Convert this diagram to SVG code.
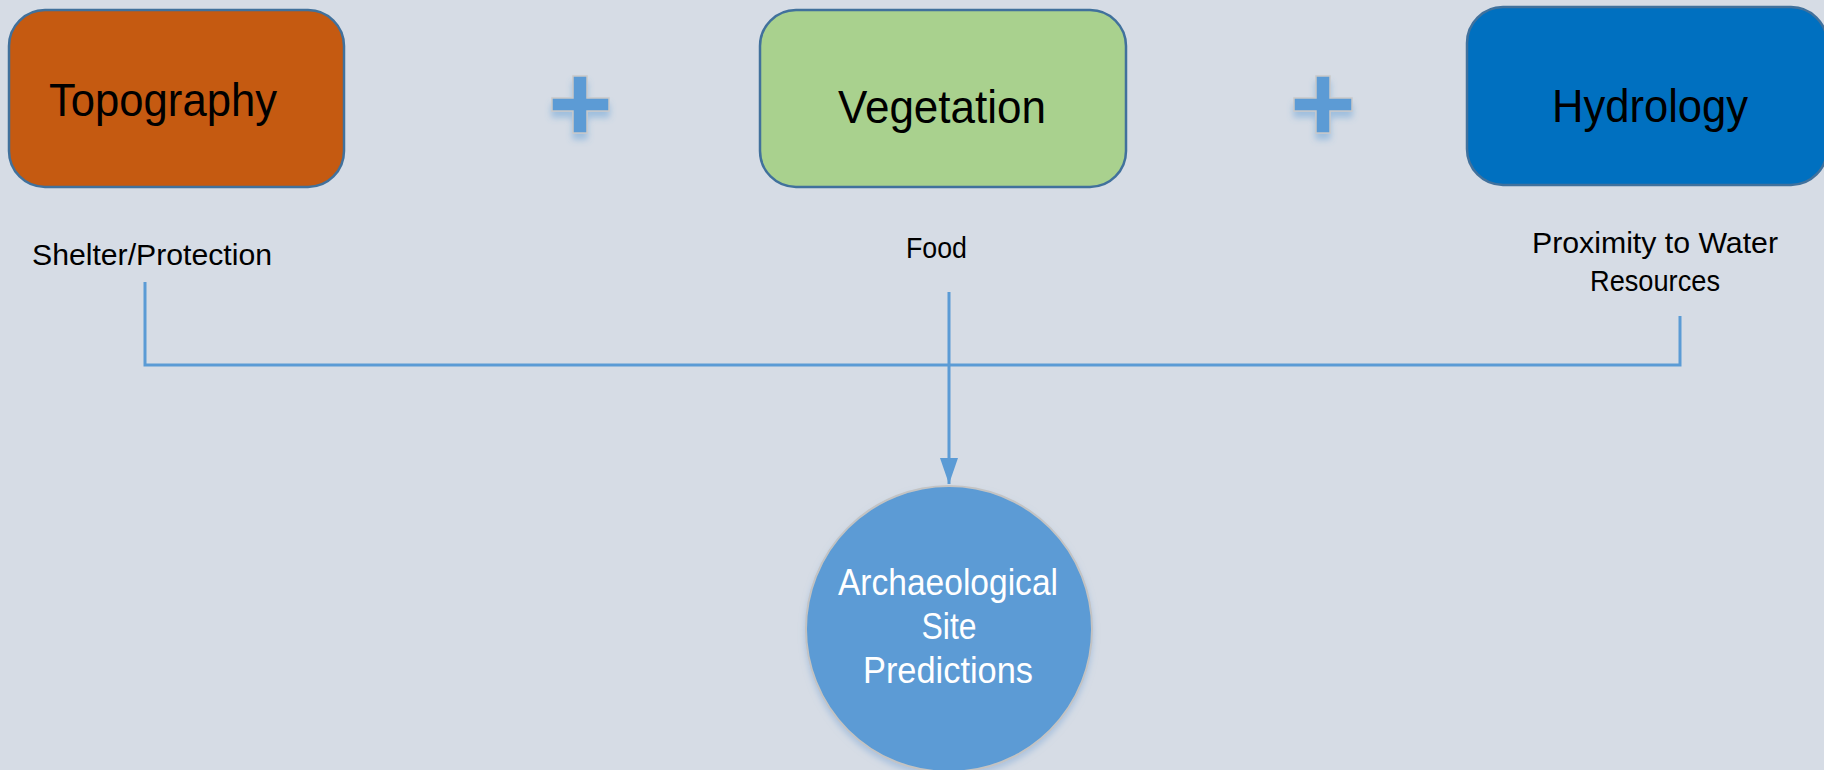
<svg xmlns="http://www.w3.org/2000/svg" width="1824" height="770" viewBox="0 0 1824 770">
  <defs>
    <style>
      .box { stroke: #41719C; stroke-width: 2.5; }
      .boxtxt { font-family: "Liberation Sans", Arial, sans-serif; font-size: 47px; fill: #000; }
      .lbl { font-family: "Liberation Sans", Arial, sans-serif; font-size: 30px; fill: #000; }
      .ctxt { font-family: "Liberation Sans", Arial, sans-serif; font-size: 37px; fill: #fff; text-anchor: middle; }
      .plus { fill: #5B9BD5; stroke: #C9C9C9; stroke-width: 1.5; }
      .conn { fill: none; stroke: #5B9BD5; stroke-width: 3; }
    </style>
    <filter id="shadow" x="-30%" y="-30%" width="160%" height="170%">
      <feDropShadow dx="0" dy="6" stdDeviation="3" flood-color="#5B9BD5" flood-opacity="0.45"/>
    </filter>
    <filter id="cshadow" x="-10%" y="-10%" width="120%" height="125%">
      <feDropShadow dx="0" dy="4" stdDeviation="3" flood-color="#7FA7D6" flood-opacity="0.5"/>
    </filter>
    <marker id="arrow" markerWidth="26" markerHeight="18" refX="26" refY="9" orient="auto" markerUnits="userSpaceOnUse">
      <path d="M0,0 L26,9 L0,18 Z" fill="#5B9BD5"/>
    </marker>
  </defs>
  <rect x="0" y="0" width="1824" height="770" fill="#D6DCE5"/>

  <g id="topography">
    <rect class="box" x="9" y="10" width="335" height="177" rx="36" ry="36" fill="#C55A11"/>
    <text class="boxtxt" x="49" y="116" textLength="228" lengthAdjust="spacingAndGlyphs">Topography</text>
  </g>

  <g id="plus1">
    <path class="plus" filter="url(#shadow)" d="M573,76 H587 V98 H609 V111 H587 V133 H573 V111 H552 V98 H573 Z"/>
  </g>

  <g id="vegetation">
    <rect class="box" x="760" y="10" width="366" height="177" rx="36" ry="36" fill="#A9D18E"/>
    <text class="boxtxt" x="838" y="123" textLength="208" lengthAdjust="spacingAndGlyphs">Vegetation</text>
  </g>

  <g id="plus2">
    <path class="plus" filter="url(#shadow)" d="M1316,76 H1330 V98 H1352 V111 H1330 V133 H1316 V111 H1294 V98 H1316 Z"/>
  </g>

  <g id="hydrology">
    <rect class="box" x="1467" y="7" width="360" height="178" rx="36" ry="36" fill="#0070C0"/>
    <text class="boxtxt" x="1552" y="122" textLength="196" lengthAdjust="spacingAndGlyphs">Hydrology</text>
  </g>

  <g id="labels">
    <text class="lbl" x="32" y="265" textLength="240" lengthAdjust="spacingAndGlyphs">Shelter/Protection</text>
    <text class="lbl" x="906" y="258" textLength="61" lengthAdjust="spacingAndGlyphs">Food</text>
    <text class="lbl" x="1532" y="253" textLength="246" lengthAdjust="spacingAndGlyphs">Proximity to Water</text>
    <text class="lbl" x="1590" y="291" textLength="130" lengthAdjust="spacingAndGlyphs">Resources</text>
  </g>

  <g id="connectors">
    <polyline class="conn" points="145,282 145,365 1680,365 1680,316"/>
    <line class="conn" x1="949" y1="292" x2="949" y2="484" marker-end="url(#arrow)"/>
  </g>

  <g id="prediction">
    <circle cx="949" cy="629" r="143" fill="#5B9BD5" stroke="#C3C3C3" stroke-width="2" filter="url(#cshadow)"/>
    <text class="ctxt" x="948" y="595" textLength="220" lengthAdjust="spacingAndGlyphs">Archaeological</text>
    <text class="ctxt" x="949" y="639" textLength="55" lengthAdjust="spacingAndGlyphs">Site</text>
    <text class="ctxt" x="948" y="683" textLength="170" lengthAdjust="spacingAndGlyphs">Predictions</text>
  </g>
</svg>
